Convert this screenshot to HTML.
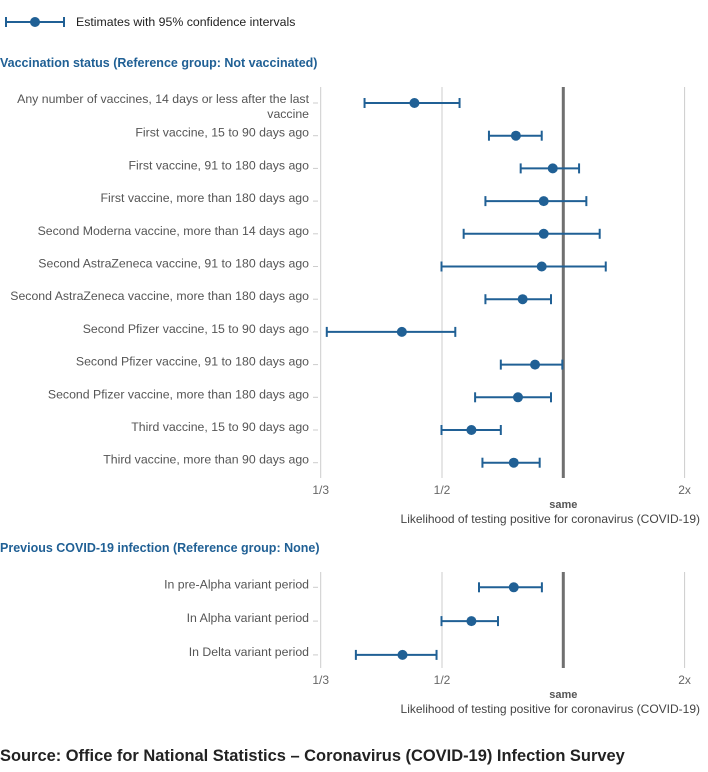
<!DOCTYPE html>
<html><head><meta charset="utf-8"><style>
body{margin:0;background:#fff;font-family:"Liberation Sans",sans-serif;}
svg{display:block}
</style></head><body>
<svg id="c" width="708" height="772" xmlns="http://www.w3.org/2000/svg" font-family="Liberation Sans, sans-serif">
 <g>
  <line x1="6" y1="22" x2="64" y2="22" stroke="#206095" stroke-width="2"/>
  <line x1="6" y1="17" x2="6" y2="27" stroke="#206095" stroke-width="2"/>
  <line x1="64" y1="17" x2="64" y2="27" stroke="#206095" stroke-width="2"/>
  <circle cx="35" cy="22" r="5" fill="#206095"/>
  <text x="76" y="26" font-size="12.3" fill="#222">Estimates with 95% confidence intervals</text>
 </g>
 <text x="0" y="67" font-size="12.5" font-weight="bold" fill="#206095">Vaccination status (Reference group: Not vaccinated)</text>
 <text x="0" y="552" font-size="12.5" font-weight="bold" fill="#206095">Previous COVID-19 infection (Reference group: None)</text>
 <text x="0" y="761" font-size="16.45" font-weight="bold" fill="#222">Source: Office for National Statistics – Coronavirus (COVID-19) Infection Survey</text>
 <g id="p1"></g><g id="p2"></g>
</svg>
<script>
const cats1=["Any number of vaccines, 14 days or less after the last|vaccine","First vaccine, 15 to 90 days ago","First vaccine, 91 to 180 days ago","First vaccine, more than 180 days ago","Second Moderna vaccine, more than 14 days ago","Second AstraZeneca vaccine, 91 to 180 days ago","Second AstraZeneca vaccine, more than 180 days ago","Second Pfizer vaccine, 15 to 90 days ago","Second Pfizer vaccine, 91 to 180 days ago","Second Pfizer vaccine, more than 180 days ago","Third vaccine, 15 to 90 days ago","Third vaccine, more than 90 days ago"];
const est1=[0.449,0.719,0.920,0.861,0.861,0.849,0.749,0.429,0.811,0.728,0.569,0.710];
const lo1=[0.379,0.620,0.740,0.609,0.549,0.499,0.609,0.339,0.660,0.579,0.499,0.600];
const hi1=[0.539,0.849,1.13,1.19,1.30,1.35,0.908,0.529,0.992,0.908,0.660,0.837];
const cats2=["In pre-Alpha variant period","In Alpha variant period","In Delta variant period"];
const est2=[0.710,0.569,0.430];
const lo2=[0.590,0.499,0.369];
const hi2=[0.850,0.650,0.489];
const tickVals=[1/3,0.5,1,2];
const tickLabels=["1/3","1/2","same","2x"];
const NS="http://www.w3.org/2000/svg";
function xs(v){const u=v>=1?v-1:1-1/v;return 563.3+u*121.3;}
function mk(g,tag,a,txt){const e=document.createElementNS(NS,tag);for(const k in a)e.setAttribute(k,a[k]);if(txt!=null)e.textContent=txt;g.appendChild(e);return e;}
function panel(gid,cats,est,lo,hi,top,y0,step,bottom){
 const g=document.getElementById(gid);
 tickVals.forEach((t,i)=>{
  const x=xs(t),same=t===1;
  const l=mk(g,'line',{x1:x,x2:x,y1:top,y2:bottom,stroke:same?'#707070':'#cccccc','stroke-width':same?3:1});
  
  
  const tx=mk(g,'text',{x:x,y:same?bottom+30:bottom+16,'font-size':same?11:12,'font-weight':same?'bold':'normal','text-anchor':'middle',fill:same?'#555':'#666'},tickLabels[i]);
  
  
 });
 const at=mk(g,'text',{x:700,y:bottom+45,'font-size':12,'text-anchor':'end',fill:'#444'},'Likelihood of testing positive for coronavirus (COVID-19)');
 
 
 cats.forEach((c,i)=>{
  const y=y0+i*step;
  mk(g,'line',{x1:313,x2:318,y1:y,y2:y,stroke:'#ccc'});
  const parts=c.split('|');
  parts.forEach((p,j)=>{
   const t=mk(g,'text',{x:309,y:(parts.length>1?y:y+1)+j*15,'font-size':12.3,'text-anchor':'end',fill:'#555'},p);
   
   
  });
  const gg=mk(g,'g',{});
  
  
  const a=xs(lo[i]),b=xs(hi[i]);
  mk(gg,'line',{x1:a,x2:b,y1:y,y2:y,stroke:'#206095','stroke-width':2});
  mk(gg,'line',{x1:a,x2:a,y1:y-5,y2:y+5,stroke:'#206095','stroke-width':2});
  mk(gg,'line',{x1:b,x2:b,y1:y-5,y2:y+5,stroke:'#206095','stroke-width':2});
  mk(gg,'circle',{cx:xs(est[i]),cy:y,r:5,fill:'#206095'});
 });
}
panel('p1',cats1,est1,lo1,hi1,87,103,32.7,478);
panel('p2',cats2,est2,lo2,hi2,572,587.3,33.8,668);
</script>
</body></html>
